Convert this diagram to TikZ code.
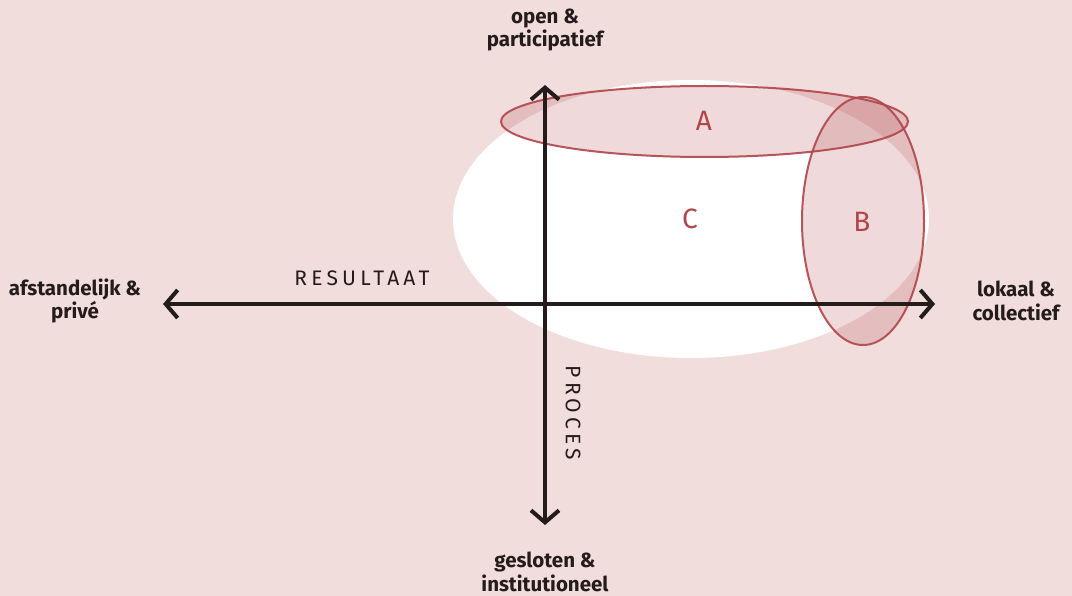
\documentclass[tikz,border=0pt]{standalone}
\usepackage{fontspec}
\setmainfont{Fira Sans}
\newfontfamily\spacedfont[LetterSpace=20]{Fira Sans}
\usetikzlibrary{arrows.meta,shapes.geometric}
\definecolor{bg}{HTML}{F2DDDD}
\definecolor{ink}{HTML}{231C1A}
\definecolor{rd}{HTML}{B0454A}
\tikzset{
  axis/.style={line width=4pt,draw=ink,{Straight Barb[length=12pt,width=28pt,line width=4pt]}-{Straight Barb[length=12pt,width=28pt,line width=4pt]}},
  pole/.style={font=\bfseries\fontsize{20.5}{23.5}\selectfont,text=ink,align=center,inner sep=0pt},
  zone/.style={ellipse,draw=rd,line width=2pt,fill=rd,fill opacity=0.2,draw opacity=0.9,inner sep=0pt},
  zlabel/.style={font=\fontsize{28}{32}\selectfont,text=rd},
  axlabel/.style={font=\spacedfont\fontsize{21}{25}\selectfont,text=ink,inner sep=0pt}
}
\begin{document}
\begin{tikzpicture}[x=1pt,y=-1pt]
\fill[bg] (0,0) rectangle (1072,596);
\useasboundingbox (0,0) rectangle (1072,596);
% white zone C
\node[ellipse,fill=white,minimum width=476pt,minimum height=278pt,inner sep=0pt] (C) at (691,219) {};
% zones A and B
\node[zone,minimum width=407pt,minimum height=71pt] (A) at (704.5,121.5) {};
\node[zone,minimum width=122pt,minimum height=248pt] (B) at (863,221) {};
\node[zlabel] (Al) at (704,121) {A};
\node[zlabel] (Cl) at (690,219) {C};
\node[zlabel] (Bl) at (862,222) {B};
% axes
\coordinate (top) at (545,85);
\coordinate (bot) at (545,525);
\coordinate (lft) at (163,304);
\coordinate (rgt) at (935,304);
\draw[axis] (lft) -- (rgt);
\draw[axis] (top) -- (bot);
% axis labels
\node[axlabel] (res) at (362,278) {RESULTAAT};
\node[axlabel,rotate=-90] (proc) at (573,413) {PROCES};
% poles
\node[pole] (open) at (545,30) {open \&\\participatief};
\node[pole] (gesl) at (545,572) {gesloten \&\\institutioneel};
\node[pole] (afst) at (75,301) {afstandelijk \&\\privé};
\node[pole] (lok) at (1016,301) {lokaal \&\\collectief};
\end{tikzpicture}
\end{document}
